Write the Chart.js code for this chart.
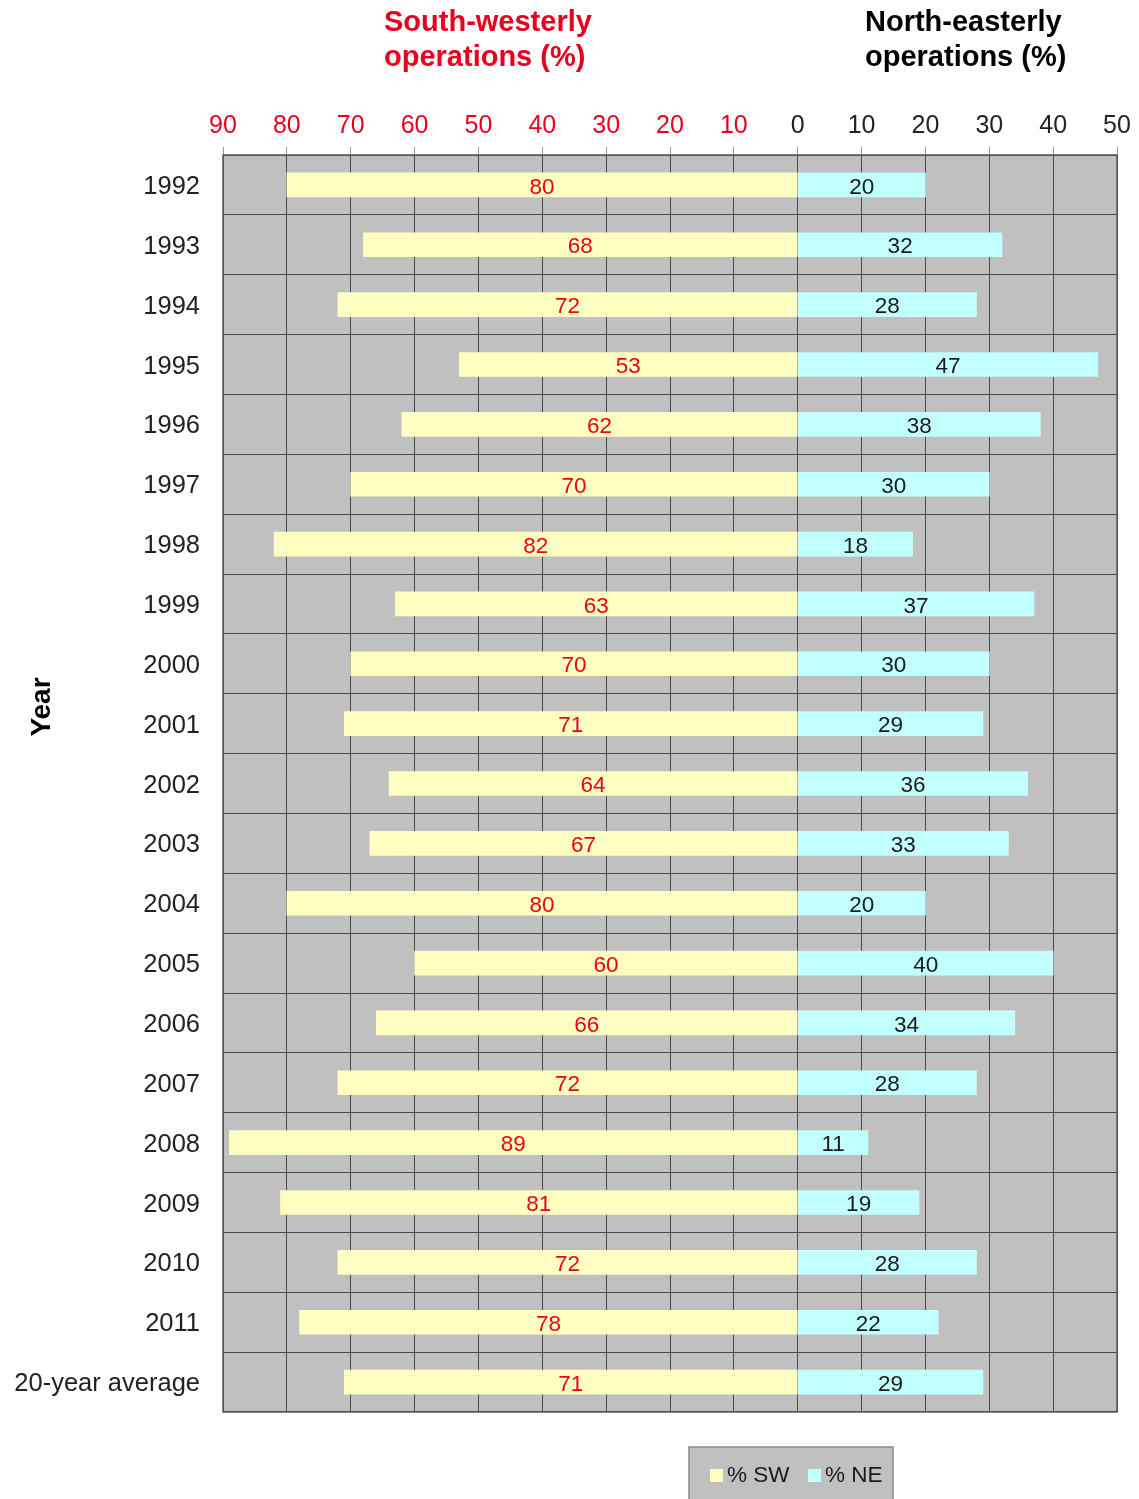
<!DOCTYPE html>
<html>
<head>
<meta charset="utf-8">
<script src="https://cdn.jsdelivr.net/npm/chart.js@4.4.1/dist/chart.umd.min.js"></script>
<style>
html,body{margin:0;padding:0;background:#fff;}
#wrap{width:1139px;height:1499px;position:relative;}
canvas{display:block;}
</style>
</head>
<body>
<div id="wrap"><canvas id="c" width="1139" height="1499"></canvas></div>
<script>
const years = ['1992','1993','1994','1995','1996','1997','1998','1999','2000','2001','2002','2003','2004','2005','2006','2007','2008','2009','2010','2011','20-year average'];
const swValues = [80,68,72,53,62,70,82,63,70,71,64,67,80,60,66,72,89,81,72,78,71];
const neValues = [20,32,28,47,38,30,18,37,30,29,36,33,20,40,34,28,11,19,28,22,29];
const xMin = -90, xMax = 50, xStep = 10;

const RED = '#e8001e';
const DARK = '#1a1a1a';
const FONT = '"Liberation Sans", Arial, Helvetica, sans-serif';
const SW_COLOR = '#ffffc2';
const NE_COLOR = '#c2ffff';
const PLOT_BG = '#c0c0c0';
const GRID = '#4a4a4a';

const decor = {
  id: 'decor',
  beforeDraw(chart) {
    const {ctx, chartArea: a} = chart;
    ctx.save();
    ctx.fillStyle = PLOT_BG;
    ctx.fillRect(a.left, a.top, a.right - a.left, a.bottom - a.top);
    ctx.restore();
  },
  afterDatasetsDraw(chart) {
    const ctx = chart.ctx;
    ctx.save();
    ctx.font = '22.5px ' + FONT;
    ctx.textAlign = 'center';
    ctx.textBaseline = 'middle';
    chart.data.datasets.forEach((ds, di) => {
      const meta = chart.getDatasetMeta(di);
      meta.data.forEach((el, i) => {
        const p = el.getProps(['x', 'y', 'base'], true);
        const cx = (p.x + p.base) / 2;
        ctx.fillStyle = di === 0 ? RED : DARK;
        ctx.fillText(String(Math.abs(ds.data[i])), cx, p.y + 2.5);
      });
    });
    const a = chart.chartArea;
    ctx.strokeStyle = '#5a5a5a';
    ctx.lineWidth = 1.5;
    ctx.strokeRect(a.left, a.top, a.right - a.left, a.bottom - a.top);
    ctx.restore();
  },
  afterDraw(chart) {
    const ctx = chart.ctx;
    ctx.save();
    ctx.font = 'bold 29px ' + FONT;
    ctx.textAlign = 'left';
    ctx.textBaseline = 'middle';
    ctx.fillStyle = RED;
    ctx.fillText('South-westerly', 384, 23);
    ctx.fillText('operations (%)', 384, 58);
    ctx.fillStyle = '#000';
    ctx.fillText('North-easterly', 865, 23);
    ctx.fillText('operations (%)', 865, 58);
    ctx.save();
    ctx.translate(42, 707);
    ctx.rotate(-Math.PI / 2);
    ctx.textAlign = 'center';
    ctx.font = 'bold 28px ' + FONT;
    ctx.fillText('Year', 0, 0);
    ctx.restore();
    ctx.fillStyle = PLOT_BG;
    ctx.fillRect(689, 1447, 204, 60);
    ctx.strokeStyle = '#8a8a8a';
    ctx.lineWidth = 1.5;
    ctx.strokeRect(689, 1447, 204, 60);
    ctx.fillStyle = SW_COLOR;
    ctx.fillRect(710, 1469, 13, 13);
    ctx.fillStyle = NE_COLOR;
    ctx.fillRect(808, 1469, 13, 13);
    ctx.fillStyle = DARK;
    ctx.font = '22.5px ' + FONT;
    ctx.textAlign = 'left';
    ctx.fillText('% SW', 727, 1476);
    ctx.fillText('% NE', 825, 1476);
    ctx.restore();
  }
};

new Chart(document.getElementById('c'), {
  type: 'bar',
  data: {
    labels: years,
    datasets: [
      {label: '% SW', data: swValues.map(v => -v), backgroundColor: SW_COLOR, borderWidth: 0, barThickness: 24},
      {label: '% NE', data: neValues, backgroundColor: NE_COLOR, borderWidth: 0, barThickness: 24}
    ]
  },
  options: {
    indexAxis: 'y',
    responsive: false,
    animation: false,
    layout: {padding: {top: 100, bottom: 87, left: 0, right: 22}},
    plugins: {legend: {display: false}, tooltip: {enabled: false}},
    scales: {
      x: {
        position: 'top',
        stacked: true,
        min: xMin, max: xMax,
        afterFit(s) { s.height = 55; },
        ticks: {
          stepSize: xStep,
          padding: 6,
          font: {size: 25, family: FONT},
          color: c => c.tick.value < 0 ? RED : '#222',
          callback: v => String(Math.abs(v))
        },
        grid: {color: GRID, lineWidth: 1, drawTicks: true, tickLength: 8, tickColor: '#9a9a9a'},
        border: {display: false}
      },
      y: {
        stacked: true,
        afterFit(s) { s.width = 223; },
        ticks: {padding: 23, labelOffset: 2, font: {size: 25.5, family: FONT}, color: '#222'},
        grid: {color: GRID, lineWidth: 1, offset: true, drawTicks: false},
        border: {display: false}
      }
    }
  },
  plugins: [decor]
});
</script>
</body>
</html>
